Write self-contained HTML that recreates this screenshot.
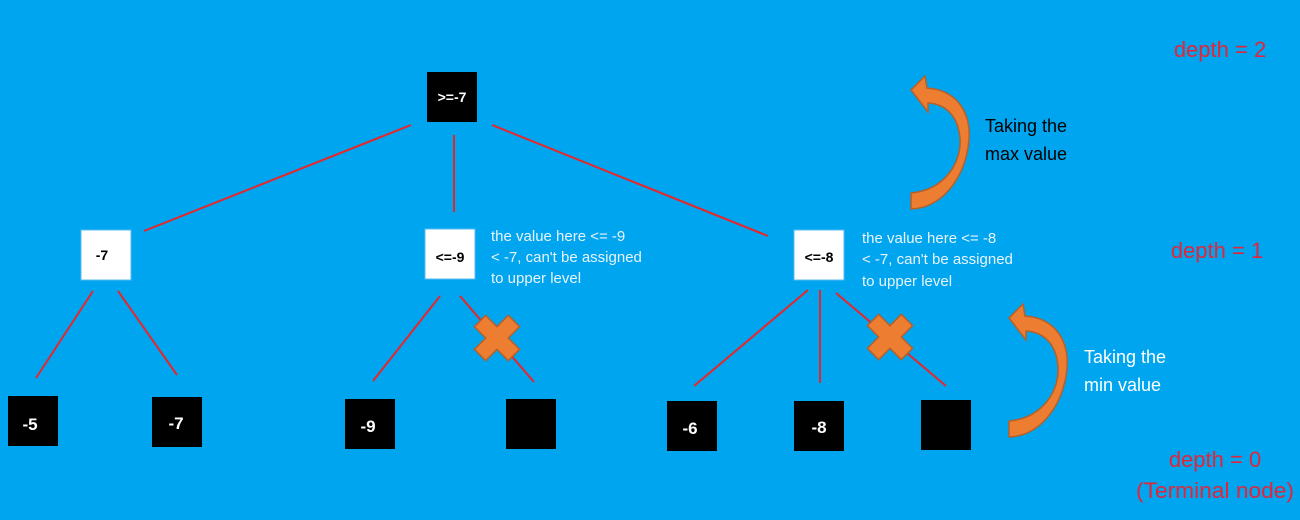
<!DOCTYPE html>
<html><head><style>
body{margin:0;width:1300px;height:520px;background:#00a5ef;overflow:hidden}
svg{display:block}
text{font-family:"Liberation Sans",sans-serif}
</style></head><body>
<svg width="1300" height="520" viewBox="0 0 1300 520">
<rect width="1300" height="520" fill="#00a5ef"/>
<g stroke="#e8262a" stroke-width="2">
<line x1="411" y1="125" x2="144" y2="231"/>
<line x1="454" y1="135" x2="454" y2="212"/>
<line x1="492" y1="125" x2="768" y2="236"/>
<line x1="93" y1="291" x2="36" y2="378"/>
<line x1="118" y1="291" x2="177" y2="375"/>
<line x1="440" y1="296" x2="373" y2="381"/>
<line x1="460" y1="296" x2="534" y2="382"/>
<line x1="808" y1="290" x2="694" y2="386"/>
<line x1="820" y1="290" x2="820" y2="383"/>
<line x1="836" y1="293" x2="946" y2="386"/>
</g>
<rect x="427" y="72" width="50" height="50" fill="#000"/>
<text x="452" y="102" fill="#fff" font-size="14" font-weight="bold" text-anchor="middle">&gt;=-7</text>
<g fill="#fff" stroke="#5bbcf0" stroke-width="1">
<rect x="81" y="230" width="50" height="50"/>
<rect x="425" y="229" width="50" height="50"/>
<rect x="794" y="230" width="50" height="50"/>
</g>
<g font-size="14" font-weight="bold" fill="#000" text-anchor="middle">
<text x="102" y="260">-7</text>
<text x="450" y="262">&lt;=-9</text>
<text x="819" y="262">&lt;=-8</text>
</g>
<g fill="#000">
<rect x="8" y="396" width="50" height="50"/>
<rect x="152" y="397" width="50" height="50"/>
<rect x="345" y="399" width="50" height="50"/>
<rect x="506" y="399" width="50" height="50"/>
<rect x="667" y="401" width="50" height="50"/>
<rect x="794" y="401" width="50" height="50"/>
<rect x="921" y="400" width="50" height="50"/>
</g>
<g font-size="17" font-weight="bold" fill="#fff" text-anchor="middle">
<text x="30" y="430">-5</text>
<text x="176" y="429">-7</text>
<text x="368" y="432">-9</text>
<text x="690" y="434">-6</text>
<text x="819" y="433">-8</text>
</g>
<g fill="#ed7d31" stroke="#b5602a" stroke-width="1.5">
<path d="M-24,-8 L-8,-8 L-8,-24 L8,-24 L8,-8 L24,-8 L24,8 L8,8 L8,24 L-8,24 L-8,8 L-24,8Z" transform="translate(497,338) rotate(45) scale(1.0)"/>
<path d="M-24,-8 L-8,-8 L-8,-24 L8,-24 L8,-8 L24,-8 L24,8 L8,8 L8,24 L-8,24 L-8,8 L-24,8Z" transform="translate(890,337) rotate(45) scale(1.0)"/>
<path d="M911,193 C945,190 962,162 960,138 C958,115 945,104 928,103 L928,112 L911,90 L925,76 L927,88 C956,90 974,112 968,148 C962,182 940,208 911,209 Z"/>
<path d="M1009,421 C1043,418 1060,390 1058,366 C1056,343 1043,332 1026,331 L1026,340 L1009,318 L1023,304 L1025,316 C1054,318 1072,340 1066,376 C1060,410 1038,436 1009,437 Z"/>
</g>
<g font-size="18" fill="#000">
<text x="985" y="132">Taking the</text>
<text x="985" y="160">max value</text>
</g>
<g font-size="18" fill="#fff">
<text x="1084" y="363">Taking the</text>
<text x="1084" y="391">min value</text>
</g>
<g font-size="15" fill="#e8f4fc">
<text x="491" y="241">the value here &lt;= -9</text>
<text x="491" y="262">&lt; -7, can't be assigned</text>
<text x="491" y="283">to upper level</text>
<text x="862" y="243">the value here &lt;= -8</text>
<text x="862" y="264">&lt; -7, can't be assigned</text>
<text x="862" y="286">to upper level</text>
</g>
<g font-size="22" fill="#e0263a" text-anchor="middle">
<text x="1220" y="57">depth = 2</text>
<text x="1217" y="258">depth = 1</text>
<text x="1215" y="467">depth = 0</text>
<text x="1215" y="498" textLength="158" lengthAdjust="spacingAndGlyphs">(Terminal node)</text>
</g>
</svg>
</body></html>
